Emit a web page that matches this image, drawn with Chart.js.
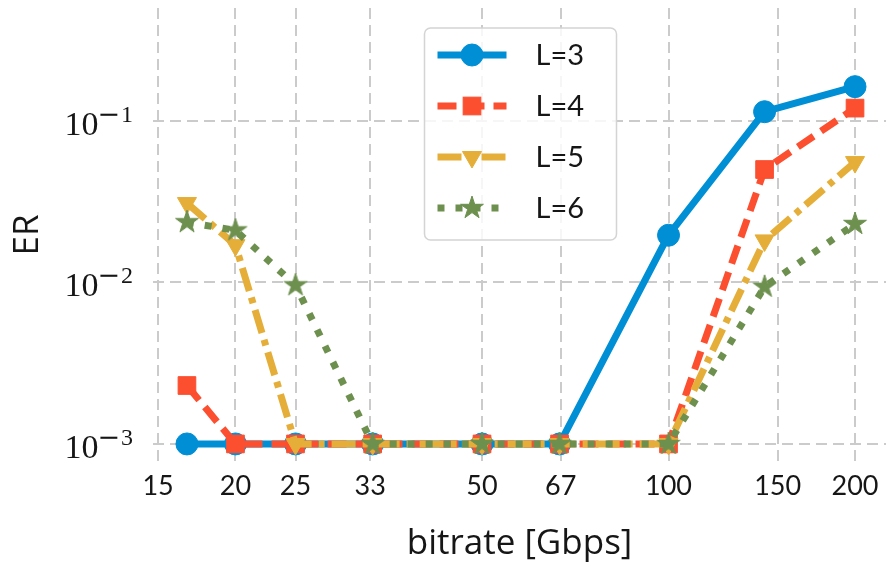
<!DOCTYPE html>
<html>
<head>
<meta charset="utf-8">
<script src="https://cdn.jsdelivr.net/npm/chart.js@4/dist/chart.umd.min.js"></script>
<style>
  html, body { margin: 0; padding: 0; background: #ffffff; }
  canvas { display: block; }
</style>
</head>
<body>
<canvas id="chart" width="886" height="565"></canvas>
<script>
// Bitrate of each measurement point [Gbps]
const bitrates = [16.7, 20, 25, 33.3, 50, 66.7, 100, 142.9, 200];

// Error rate per link length L
const erL3 = [0.001, 0.001, 0.001, 0.001, 0.001, 0.001, 0.0196, 0.114, 0.163];
const erL4 = [0.0023, 0.001, 0.001, 0.001, 0.001, 0.001, 0.001, 0.050, 0.120];
const erL5 = [0.031, 0.017, 0.001, 0.001, 0.001, 0.001, 0.001, 0.0182, 0.0556];
const erL6 = [0.0236, 0.021, 0.0096, 0.001, 0.001, 0.001, 0.001, 0.0094, 0.0230];

const seriesLabels = ['L=3', 'L=4', 'L=5', 'L=6'];

// Axis ticks
const xTicks = [15, 20, 25, 33, 50, 67, 100, 150, 200];
const xTickLabels = ['15', '20', '25', '33', '50', '67', '100', '150', '200'];
const yTicks = [0.001, 0.01, 0.1];
const yTickBase = '10';
const yTickExponents = ['3', '2', '1'];

// Styling
const seriesColors = ['#008fd5', '#fc4f30', '#e5ae38', '#6d904f'];
const seriesDashes = [[], [19, 9], [24, 7, 6, 7], [7, 11]];
const seriesRadii = [11, 12.5, 11, 12];
const seriesRotation = [0, 0, 180, 0];
const LINE_W = 7;
const GRID_COLOR = '#cbcbcb';
const TEXT_COLOR = '#161616';
const SANS = "Lato, 'Open Sans', sans-serif";
const TITLE_SANS = "'Open Sans', Lato, sans-serif";

// Filled five-point star used as a marker
function makeStar(color, outer) {
  const inner = outer * 0.381966;
  const size = Math.ceil(outer * 2 + 4);
  const cv = document.createElement('canvas');
  cv.width = size; cv.height = size;
  const g = cv.getContext('2d');
  g.translate(size / 2, size / 2);
  g.beginPath();
  for (let k = 0; k < 10; k++) {
    const r = k % 2 === 0 ? outer : inner;
    const a = -Math.PI / 2 + k * Math.PI / 5;
    const px = r * Math.cos(a), py = r * Math.sin(a);
    if (k === 0) g.moveTo(px, py); else g.lineTo(px, py);
  }
  g.closePath();
  g.fillStyle = color;
  g.fill();
  g.lineJoin = 'round';
  g.lineWidth = 1;
  g.strokeStyle = color;
  g.stroke();
  return cv;
}

const starMarker = makeStar(seriesColors[3], seriesRadii[3]);
const seriesMarkers = ['circle', 'rect', 'triangle', starMarker];
const seriesValues = [erL3, erL4, erL5, erL6];

const datasets = seriesValues.map((vals, i) => ({
  label: seriesLabels[i],
  data: bitrates.map((b, j) => ({ x: b, y: vals[j] })),
  borderColor: seriesColors[i],
  backgroundColor: seriesColors[i],
  borderWidth: LINE_W,
  borderDash: seriesDashes[i],
  borderJoinStyle: 'round',
  borderCapStyle: i === 0 ? 'round' : 'butt',
  pointStyle: seriesMarkers[i],
  pointRadius: seriesRadii[i],
  pointHoverRadius: seriesRadii[i],
  pointRotation: seriesRotation[i],
  pointBackgroundColor: seriesColors[i],
  pointBorderColor: seriesColors[i],
  pointBorderWidth: 1,
  tension: 0,
  fill: false,
  order: seriesValues.length - 1 - i
}));

// Draws a marker shape at (x, y) for the inset legend
function drawMarker(ctx, ds, x, y) {
  ctx.save();
  ctx.fillStyle = ds.pointBackgroundColor;
  ctx.strokeStyle = ds.pointBorderColor;
  ctx.lineWidth = 1;
  const r = ds.pointRadius;
  const st = ds.pointStyle;
  if (st instanceof HTMLCanvasElement) {
    ctx.drawImage(st, x - st.width / 2, y - st.height / 2);
  } else if (st === 'circle') {
    ctx.beginPath(); ctx.arc(x, y, r, 0, Math.PI * 2); ctx.fill(); ctx.stroke();
  } else if (st === 'rect') {
    const h = r * Math.SQRT1_2;
    ctx.fillRect(x - h, y - h, 2 * h, 2 * h);
    ctx.strokeRect(x - h, y - h, 2 * h, 2 * h);
  } else if (st === 'triangle') {
    const rot = (ds.pointRotation || 0) * Math.PI / 180;
    ctx.beginPath();
    for (let k = 0; k < 3; k++) {
      const a = rot + k * 2 * Math.PI / 3;
      const px = x + Math.sin(a) * r, py = y - Math.cos(a) * r;
      if (k === 0) ctx.moveTo(px, py); else ctx.lineTo(px, py);
    }
    ctx.closePath(); ctx.fill(); ctx.stroke();
  }
  ctx.restore();
}

function roundRect(ctx, x, y, w, h, r) {
  ctx.beginPath();
  ctx.moveTo(x + r, y);
  ctx.lineTo(x + w - r, y);
  ctx.arcTo(x + w, y, x + w, y + r, r);
  ctx.lineTo(x + w, y + h - r);
  ctx.arcTo(x + w, y + h, x + w - r, y + h, r);
  ctx.lineTo(x + r, y + h);
  ctx.arcTo(x, y + h, x, y + h - r, r);
  ctx.lineTo(x, y + r);
  ctx.arcTo(x, y, x + r, y, r);
  ctx.closePath();
}

// Legend placed inside the plot, upper center
const insetLegend = {
  id: 'insetLegend',
  afterDraw(chart) {
    const ctx = chart.ctx;
    const area = chart.chartArea;
    const w = 192, h = 212;
    const bx = (area.left + area.right) / 2 - w / 2 + 1;
    const by = area.top + 20;
    ctx.save();
    roundRect(ctx, bx, by, w, h, 6);
    ctx.fillStyle = 'rgba(255,255,255,0.82)';
    ctx.fill();
    ctx.lineWidth = 1.5;
    ctx.strokeStyle = '#d4d4d4';
    ctx.stroke();

    const rowGap = 51;
    const lineX0 = bx + 13, lineX1 = bx + 82;
    const textX = bx + 111;
    chart.data.datasets.forEach((ds, i) => {
      const y = by + 27 + i * rowGap;
      ctx.save();
      ctx.beginPath();
      ctx.setLineDash(ds.borderDash);
      ctx.lineWidth = ds.borderWidth;
      ctx.lineCap = 'butt';
      ctx.strokeStyle = ds.borderColor;
      ctx.moveTo(lineX0, y);
      ctx.lineTo(lineX1, y);
      ctx.stroke();
      ctx.restore();
      drawMarker(ctx, ds, (lineX0 + lineX1) / 2, y);
      ctx.fillStyle = TEXT_COLOR;
      ctx.font = '29px ' + SANS;
      ctx.textAlign = 'left';
      ctx.textBaseline = 'middle';
      ctx.fillText(ds.label, textX, y + 1);
    });
    ctx.restore();
  }
};

// Power-of-ten labels on the y axis, with raised exponents
const powerLabels = {
  id: 'powerLabels',
  afterDraw(chart) {
    const s = chart.scales.y;
    const ctx = chart.ctx;
    ctx.save();
    ctx.fillStyle = TEXT_COLOR;
    ctx.textBaseline = 'alphabetic';
    ctx.textAlign = 'right';
    yTicks.forEach((v, i) => {
      const py = s.getPixelForValue(v);
      const right = s.right - 20;
      ctx.font = "24px 'Liberation Serif', serif";
      const expW = ctx.measureText(yTickExponents[i]).width;
      ctx.fillText(yTickExponents[i], right, py + 1);
      ctx.font = "27px 'DejaVu Serif', serif";
      const minusRight = right - expW - 1;
      const minusW = ctx.measureText('\u2212').width;
      ctx.fillText('\u2212', minusRight, py + 2);
      ctx.font = "34px 'Liberation Serif', serif";
      ctx.fillText(yTickBase, minusRight - minusW + 1, py + 14);
    });
    ctx.restore();
  }
};

function build() {
  new Chart(document.getElementById('chart'), {
    type: 'line',
    data: { datasets },
    plugins: [powerLabels, insetLegend],
    options: {
      animation: false,
      responsive: false,
      devicePixelRatio: 1,
      layout: { autoPadding: false, padding: { top: 8, left: 0, right: 0, bottom: 0 } },
      plugins: {
        legend: { display: false },
        tooltip: { enabled: false }
      },
      scales: {
        x: {
          type: 'logarithmic',
          bounds: 'data',
          min: 14.72,
          max: 224.4,
          afterBuildTicks: (s) => { s.ticks = xTicks.map(v => ({ value: v })); },
          afterFit: (s) => { s.height = 103; s.paddingLeft = 0; s.paddingRight = 0; },
          ticks: {
            autoSkip: false,
            maxRotation: 0,
            minRotation: 0,
            padding: 8,
            color: TEXT_COLOR,
            font: { family: SANS, size: 27 },
            callback: (v, i) => xTickLabels[i]
          },
          grid: { color: GRID_COLOR, lineWidth: 2, drawTicks: false },
          border: { display: false, dash: [11, 6] },
          title: {
            display: true,
            text: 'bitrate [Gbps]',
            color: TEXT_COLOR,
            font: { family: TITLE_SANS, size: 35 },
            padding: { top: 0, bottom: 0 }
          }
        },
        y: {
          type: 'logarithmic',
          bounds: 'data',
          min: 0.000773,
          max: 0.5,
          afterBuildTicks: (s) => { s.ticks = yTicks.map(v => ({ value: v })); },
          afterFit: (s) => { s.width = 153; },
          ticks: { display: false },
          grid: { color: GRID_COLOR, lineWidth: 2, drawTicks: false },
          border: { display: false, dash: [11, 6] },
          title: {
            display: true,
            text: 'ER',
            color: TEXT_COLOR,
            font: { family: TITLE_SANS, size: 35 },
            padding: { top: 7, bottom: 0 }
          }
        }
      }
    }
  });
}

const fontLoads = ['27px Lato', "35px 'Open Sans'", "24px 'Liberation Serif'", "24px 'DejaVu Serif'"]
  .map(f => document.fonts.load(f).catch(() => null));
Promise.all(fontLoads).then(build, build);
</script>
</body>
</html>
